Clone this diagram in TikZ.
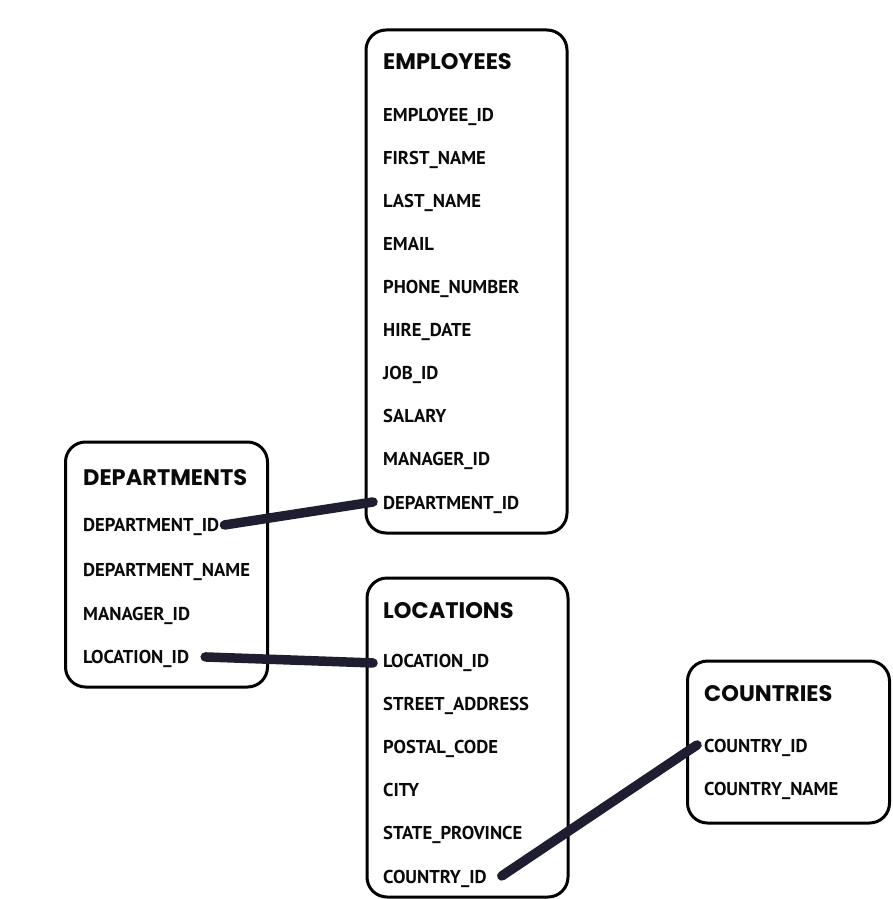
\documentclass[tikz,border=0pt]{standalone}
\usepackage{fontspec}
\newfontfamily\titlefont{Poppins}
\newfontfamily\fieldfont{PT Sans}
\definecolor{linkcol}{HTML}{1E1E30}
\definecolor{inkcol}{HTML}{0A0A0A}
\tikzset{
  tablebox/.style={draw=black, line width=3pt, rounded corners=20pt, fill=white, inner sep=0pt},
  tabletitle/.style={anchor=base west, inner sep=0pt, text=inkcol, font=\titlefont\bfseries\fontsize{22.5}{26}\selectfont},
  field/.style={anchor=base west, inner sep=0pt, text=inkcol, font=\fieldfont\bfseries\fontsize{18.6}{22}\selectfont},
  link/.style={draw=linkcol, line width=9.5pt, line cap=round}
}
\begin{document}
\begin{tikzpicture}[x=1pt,y=-1pt]
\useasboundingbox (0,0) rectangle (893,899);
% boxes
\node[tablebox, minimum width=201pt, minimum height=503pt] (emp) at (466.5,281.5) {};
\node[tablebox, minimum width=202pt, minimum height=245pt] (dep) at (166.5,564.5) {};
\node[tablebox, minimum width=201pt, minimum height=319pt] (loc) at (467.5,737.5) {};
\node[tablebox, minimum width=202pt, minimum height=162pt] (cou) at (788.5,742) {};
% EMPLOYEES
\node[tabletitle] (empT) at (383,70) {EMPLOYEES};
\node[field] (e1) at (383,121.5) {EMPLOYEE\_ID};
\node[field] (e2) at (383,164.5) {FIRST\_NAME};
\node[field] (e3) at (383,207.5) {LAST\_NAME};
\node[field] (e4) at (383,250.5) {EMAIL};
\node[field] (e5) at (383,293.5) {PHONE\_NUMBER};
\node[field] (e6) at (383,336.5) {HIRE\_DATE};
\node[field] (e7) at (383,379.5) {JOB\_ID};
\node[field] (e8) at (383,422.5) {SALARY};
\node[field] (e9) at (383,465.5) {MANAGER\_ID};
\node[field] (e10) at (383,509.5) {DEPARTMENT\_ID};
% DEPARTMENTS
\node[tabletitle] (depT) at (83,485) {DEPARTMENTS};
\node[field] (d1) at (83,531.5) {DEPARTMENT\_ID};
\node[field] (d2) at (83,576) {DEPARTMENT\_NAME};
\node[field] (d3) at (83,620) {MANAGER\_ID};
\node[field] (d4) at (83,663.5) {LOCATION\_ID};
% LOCATIONS
\node[tabletitle] (locT) at (383,618) {LOCATIONS};
\node[field] (l1) at (383,667.5) {LOCATION\_ID};
\node[field] (l2) at (383,710.5) {STREET\_ADDRESS};
\node[field] (l3) at (383,753.5) {POSTAL\_CODE};
\node[field] (l4) at (383,796.5) {CITY};
\node[field] (l5) at (383,839.5) {STATE\_PROVINCE};
\node[field] (l6) at (383,883.5) {COUNTRY\_ID};
% COUNTRIES
\node[tabletitle] (couT) at (704,701) {COUNTRIES};
\node[field] (c1) at (704,752.5) {COUNTRY\_ID};
\node[field] (c2) at (704,795.5) {COUNTRY\_NAME};
% connectors (yshift is in page direction: positive = up)
\coordinate (a1) at ([xshift=5pt,yshift=2pt]d1.east);
\coordinate (b1) at ([xshift=-10pt,yshift=3pt]e10.west);
\draw[link] (a1) -- (b1);
\coordinate (a2) at ([xshift=16pt,yshift=2pt]d4.east);
\coordinate (b2) at ([xshift=-10pt,yshift=0pt]l1.west);
\draw[link] (a2) -- (b2);
\coordinate (a3) at ([xshift=15pt,yshift=3pt]l6.east);
\coordinate (b3) at ([xshift=-7pt,yshift=3pt]c1.west);
\draw[link] (a3) -- (b3);
\end{tikzpicture}
\end{document}
